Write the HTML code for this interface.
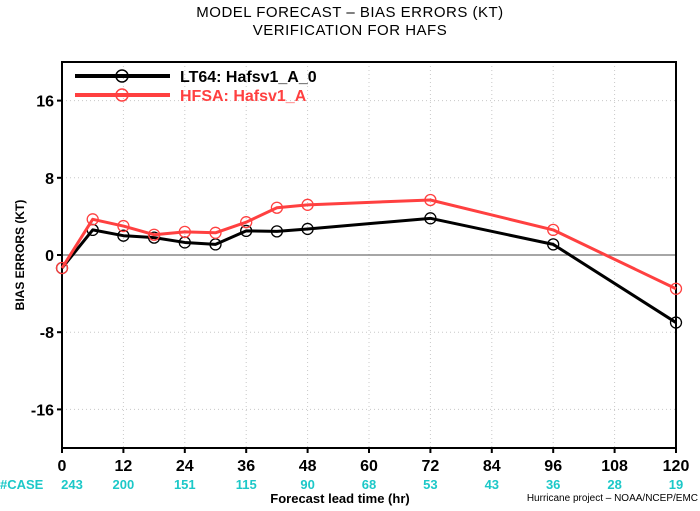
<!DOCTYPE html>
<html><head><meta charset="utf-8"><style>
body{margin:0;background:#fff;}
svg text{font-family:"Liberation Sans",sans-serif;}
</style></head><body>
<svg width="700" height="506" viewBox="0 0 700 506" xmlns="http://www.w3.org/2000/svg">
<text x="350" y="17" text-anchor="middle" font-size="15" letter-spacing="0.5">MODEL FORECAST – BIAS ERRORS (KT)</text>
<text x="350" y="35" text-anchor="middle" font-size="15" letter-spacing="0.5">VERIFICATION FOR HAFS</text>
<g id="grid"></g>
<g id="axes"></g>
<g id="series"></g>
<text transform="translate(24,255) rotate(-90)" text-anchor="middle" font-size="12" font-weight="bold">BIAS ERRORS (KT)</text>
<text x="340" y="503" text-anchor="middle" font-size="13" font-weight="bold">Forecast lead time (hr)</text>
<text x="698" y="501" text-anchor="end" font-size="10">Hurricane project – NOAA/NCEP/EMC</text>
<text x="0" y="489" font-size="13" font-weight="bold" fill="#1cc8c8">#CASE</text>
<g>
<line x1="75" y1="76" x2="170" y2="76" stroke="#000" stroke-width="4"/>
<circle cx="122" cy="76" r="6" fill="none" stroke="#000" stroke-width="1.5"/>
<text x="180" y="82" font-size="16" font-weight="bold">LT64:  Hafsv1_A_0</text>
<line x1="75" y1="95" x2="170" y2="95" stroke="#ff4040" stroke-width="4"/>
<circle cx="122" cy="95" r="6" fill="none" stroke="#ff4040" stroke-width="1.5"/>
<text x="180" y="101" font-size="16" font-weight="bold" fill="#ff4040">HFSA:  Hafsv1_A</text>
</g>
</svg>
<script>
const leadHours=[0,6,12,18,24,30,36,42,48,72,96,120];
const lt64Bias=[-1.35,2.6,2.0,1.8,1.3,1.1,2.5,2.45,2.7,3.8,1.1,-7.0];
const hfsaBias=[-1.35,3.7,3.0,2.1,2.4,2.3,3.4,4.9,5.2,5.7,2.6,-3.5];
const xTicks=[0,12,24,36,48,60,72,84,96,108,120];
const caseCounts=["243","200","151","115","90","68","53","43","36","28","19"];
const yTicks=[-16,-8,0,8,16];
const X0=62,X1=676,Y0=448,Y1=62;
const xs=v=>X0+(v-0)/120*(X1-X0);
const ys=v=>Y0-(v+20)/40*(Y0-Y1);
const NS="http://www.w3.org/2000/svg";
function mk(t,a,p){const e=document.createElementNS(NS,t);for(const k in a)e.setAttribute(k,a[k]);p.appendChild(e);return e;}
const grid=document.getElementById('grid'),axes=document.getElementById('axes'),ser=document.getElementById('series');
xTicks.forEach((t,i)=>{
  if(t>0&&t<120){const g=mk('line',{x1:xs(t),x2:xs(t),y1:Y1,y2:Y0,stroke:'#c8c8c8','stroke-dasharray':'1,3'},grid);
  
  }
  const tk=mk('line',{x1:xs(t),x2:xs(t),y1:Y0,y2:Y0+5,stroke:'#000','stroke-width':2},axes);
  
  
  const l=mk('text',{x:xs(t),y:Y0+23,'text-anchor':'middle','font-size':16,'font-weight':'bold'},axes);l.textContent=t;
  
  
  const c=mk('text',{x:i==0?xs(t)+10:xs(t),y:Y0+41,'text-anchor':'middle','font-size':13,'font-weight':'bold',fill:'#1cc8c8'},axes);c.textContent=caseCounts[i];
  
  
});
yTicks.forEach(t=>{
  const g=mk('line',{x1:X0,x2:X1,y1:ys(t),y2:ys(t),stroke:t==0?'#707070':'#c8c8c8','stroke-dasharray':t==0?'none':'1,3','stroke-width':t==0?1.2:1},grid);
  
  
  const tk=mk('line',{x1:X0-5,x2:X0,y1:ys(t),y2:ys(t),stroke:'#000','stroke-width':2},axes);
  
  
  const l=mk('text',{x:X0-8,y:ys(t)+6,'text-anchor':'end','font-size':16,'font-weight':'bold'},axes);l.textContent=t;
  
  
});
const fr=mk('rect',{x:X0,y:Y1,width:X1-X0,height:Y0-Y1,fill:'none',stroke:'#000','stroke-width':2},axes);


function series(vals,col,name){
  const p=mk('polyline',{points:vals.map((v,i)=>xs(leadHours[i])+','+ys(v)).join(' '),fill:'none',stroke:col,'stroke-width':3,'stroke-linejoin':'round'},ser);
  
  
  vals.forEach((v,i)=>{const c=mk('circle',{cx:xs(leadHours[i]),cy:ys(v),r:5.5,fill:'none',stroke:col,'stroke-width':1.3},ser);
  
  });
}
series(lt64Bias,'#000','lt64');
series(hfsaBias,'#ff4040','hfsa');
</script>
</body></html>
